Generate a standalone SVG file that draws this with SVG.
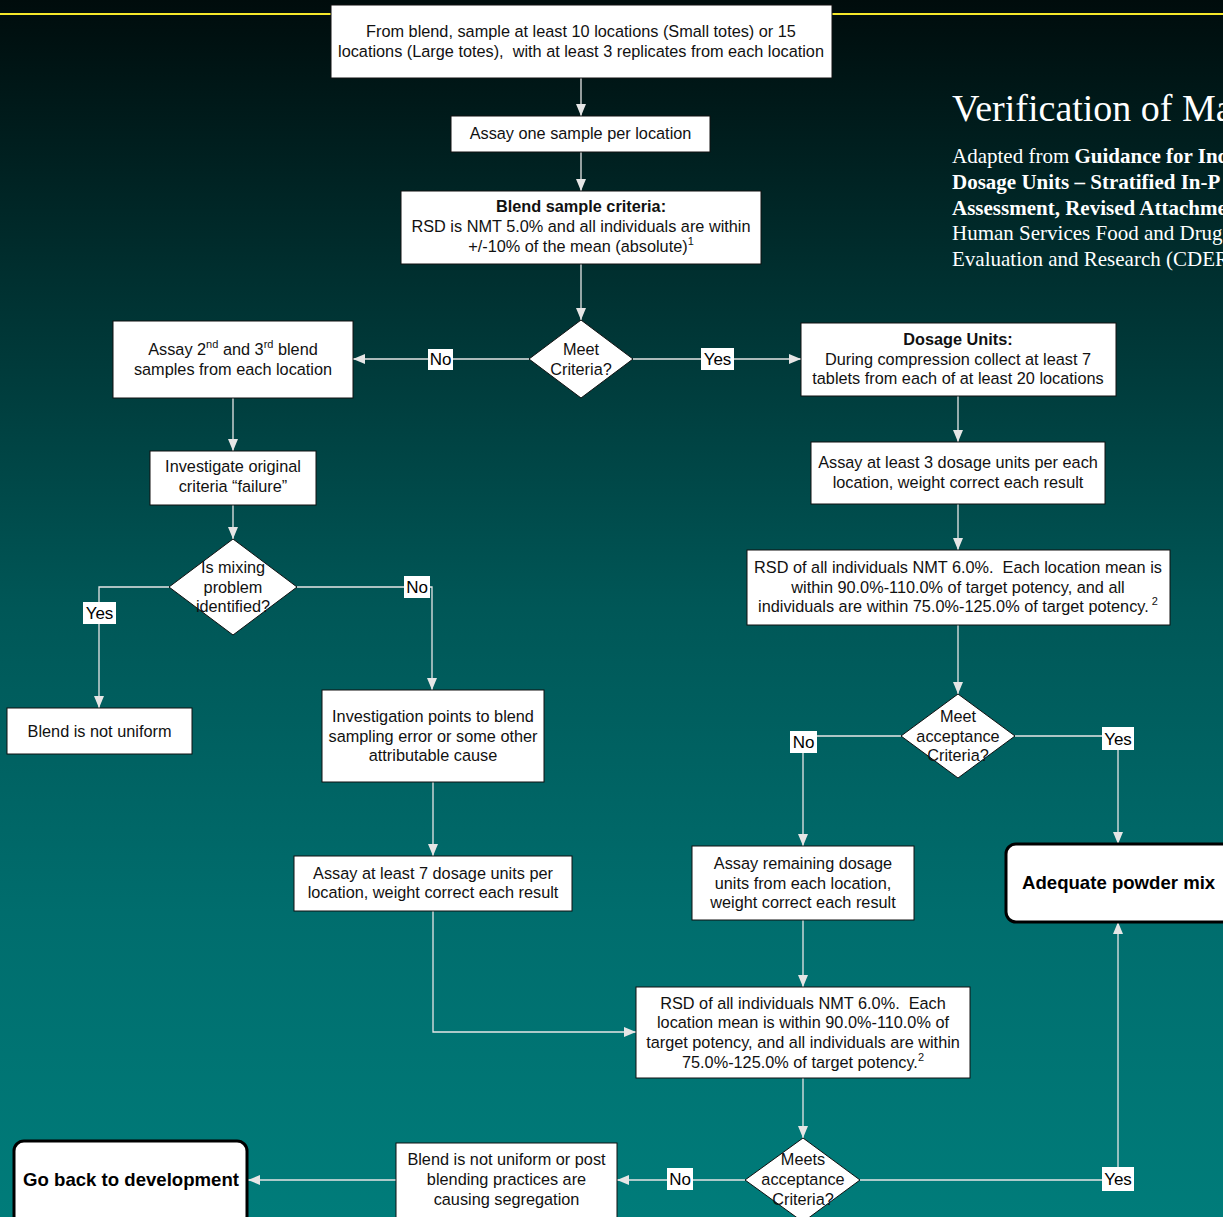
<svg xmlns="http://www.w3.org/2000/svg" width="1223" height="1217" viewBox="0 0 1223 1217">
<defs>
<linearGradient id="bg" x1="0" y1="0" x2="0" y2="1">
<stop offset="0" stop-color="#000c0c"/>
<stop offset="0.25" stop-color="#003333"/>
<stop offset="0.5" stop-color="#005757"/>
<stop offset="0.75" stop-color="#006d6d"/>
<stop offset="1" stop-color="#007c7a"/>
</linearGradient>
<marker id="arr" viewBox="0 0 12 10" refX="12" refY="5" markerWidth="12" markerHeight="10" markerUnits="userSpaceOnUse" orient="auto">
<path d="M0,0 L12,5 L0,10 Z" fill="#e6e6e6"/>
</marker>
<style>
.box{fill:#fff;stroke:#111;stroke-width:1}
.term{fill:#fff;stroke:#000;stroke-width:3}
.t{font-family:"Liberation Sans",Arial,sans-serif;font-size:16.3px;fill:#111;text-anchor:middle}
.pre{white-space:pre}
.b{font-weight:bold}
.tb{font-family:"Liberation Sans",Arial,sans-serif;font-size:18.6px;font-weight:bold;fill:#000;text-anchor:middle}
.lbl{fill:#fff}
.lt{font-family:"Liberation Sans",Arial,sans-serif;font-size:17px;fill:#000;text-anchor:middle}
.c{fill:none;stroke:#e6e6e6;stroke-width:1.3}
.ttl{font-family:"Liberation Serif","Times New Roman",serif;fill:#fff}
.sup{font-size:11px}
</style>
</defs>
<rect width="1223" height="1217" fill="url(#bg)"/>
<line x1="0" y1="14" x2="1223" y2="14" stroke="#f5e82a" stroke-width="2"/>

<g id="title">
<text class="ttl" x="952" y="121" font-size="38">Verification of Ma</text>
<text class="ttl" x="952" y="163" font-size="21">Adapted from <tspan font-weight="bold">Guidance for Ind</tspan></text>
<text class="ttl" x="952" y="189" font-size="21" font-weight="bold">Dosage Units – Stratified In-P</text>
<text class="ttl" x="952" y="215" font-size="21" font-weight="bold">Assessment, Revised Attachme</text>
<text class="ttl" x="952" y="240" font-size="21">Human Services Food and Drug</text>
<text class="ttl" x="952" y="266" font-size="21">Evaluation and Research (CDER</text>
</g>

<g id="connectors">
<path class="c" d="M581,78 V116" marker-end="url(#arr)"/>
<path class="c" d="M581,152 V191" marker-end="url(#arr)"/>
<path class="c" d="M581,264 V320" marker-end="url(#arr)"/>
<path class="c" d="M529,359 H353" marker-end="url(#arr)"/>
<path class="c" d="M633,359 H801" marker-end="url(#arr)"/>
<path class="c" d="M233,398 V451" marker-end="url(#arr)"/>
<path class="c" d="M233,505 V539" marker-end="url(#arr)"/>
<path class="c" d="M169,587 H99 V708" marker-end="url(#arr)"/>
<path class="c" d="M297,587 H432 V690" marker-end="url(#arr)"/>
<path class="c" d="M433,782 V856" marker-end="url(#arr)"/>
<path class="c" d="M433,911 V1032 H636" marker-end="url(#arr)"/>
<path class="c" d="M958,396 V442" marker-end="url(#arr)"/>
<path class="c" d="M958,504 V550" marker-end="url(#arr)"/>
<path class="c" d="M958,625 V694" marker-end="url(#arr)"/>
<path class="c" d="M901,736 H803 V846" marker-end="url(#arr)"/>
<path class="c" d="M1015,736 H1118 V844" marker-end="url(#arr)"/>
<path class="c" d="M803,920 V987" marker-end="url(#arr)"/>
<path class="c" d="M803,1078 V1138" marker-end="url(#arr)"/>
<path class="c" d="M745,1180 H617" marker-end="url(#arr)"/>
<path class="c" d="M860,1180 H1118 V922" marker-end="url(#arr)"/>
<path class="c" d="M396,1180 H248" marker-end="url(#arr)"/>
<g id="labels">
<rect class="lbl" x="428" y="349" width="25" height="21"/><text class="lt" x="440.5" y="365">No</text>
<rect class="lbl" x="701" y="348" width="33" height="22"/><text class="lt" x="717.5" y="365">Yes</text>
<rect class="lbl" x="83" y="602" width="33" height="22"/><text class="lt" x="99.5" y="619">Yes</text>
<rect class="lbl" x="404" y="576" width="26" height="22"/><text class="lt" x="417" y="593">No</text>
<rect class="lbl" x="790" y="731" width="27" height="22"/><text class="lt" x="803.5" y="748">No</text>
<rect class="lbl" x="1102" y="727" width="32" height="23"/><text class="lt" x="1118" y="745">Yes</text>
<rect class="lbl" x="667" y="1168" width="26" height="22"/><text class="lt" x="680" y="1185">No</text>
<rect class="lbl" x="1102" y="1167" width="32" height="24"/><text class="lt" x="1118" y="1185">Yes</text>
</g>
</g>

<g id="n-sample">
<rect class="box" x="331" y="5" width="501" height="73"/>
<text class="t" x="581" y="37">From blend, sample at least 10 locations (Small totes) or 15</text>
<text class="t pre" x="581" y="57">locations (Large totes),  with at least 3 replicates from each location</text>
</g>
<g id="n-assay-one">
<rect class="box" x="451" y="116" width="259" height="36"/>
<text class="t" x="580.5" y="139">Assay one sample per location</text>
</g>
<g id="n-blend-criteria">
<rect class="box" x="401" y="191" width="360" height="73"/>
<text class="t b" x="581" y="212">Blend sample criteria:</text>
<text class="t" x="581" y="232">RSD is NMT 5.0% and all individuals are within</text>
<text class="t" x="581" y="252">+/-10% of the mean (absolute)<tspan class="sup" dy="-7">1</tspan></text>
</g>
<g id="d-meet">
<polygon class="box" points="581,320 633,359 581,398 529,359"/>
<text class="t" x="581" y="355">Meet</text>
<text class="t" x="581" y="375">Criteria?</text>
</g>
<g id="n-assay-23">
<rect class="box" x="113" y="321" width="240" height="77"/>
<text class="t" x="233" y="355">Assay 2<tspan class="sup" dy="-7">nd</tspan><tspan dy="7"> and 3</tspan><tspan class="sup" dy="-7">rd</tspan><tspan dy="7"> blend</tspan></text>
<text class="t" x="233" y="375">samples from each location</text>
</g>
<g id="n-dosage-units">
<rect class="box" x="801" y="323" width="315" height="73"/>
<text class="t b" x="958" y="345">Dosage Units:</text>
<text class="t" x="958" y="365">During compression collect at least 7</text>
<text class="t" x="958" y="384">tablets from each of at least 20 locations</text>
</g>
<g id="n-investigate">
<rect class="box" x="150" y="451" width="166" height="54"/>
<text class="t" x="233" y="472">Investigate original</text>
<text class="t" x="233" y="492">criteria “failure”</text>
</g>
<g id="d-mixing">
<polygon class="box" points="233,539 297,587 233,635 169,587"/>
<text class="t" x="233" y="573">Is mixing</text>
<text class="t" x="233" y="593">problem</text>
<text class="t" x="233" y="612">identified?</text>
</g>
<g id="n-not-uniform">
<rect class="box" x="7" y="708" width="185" height="46"/>
<text class="t" x="99.5" y="737">Blend is not uniform</text>
</g>
<g id="n-investigation-points">
<rect class="box" x="322" y="690" width="222" height="92"/>
<text class="t" x="433" y="722">Investigation points to blend</text>
<text class="t" x="433" y="742">sampling error or some other</text>
<text class="t" x="433" y="761">attributable cause</text>
</g>
<g id="n-assay-7">
<rect class="box" x="294" y="856" width="278" height="55"/>
<text class="t" x="433" y="879">Assay at least 7 dosage units per</text>
<text class="t" x="433" y="898">location, weight correct each result</text>
</g>
<g id="n-assay-3">
<rect class="box" x="811" y="442" width="294" height="62"/>
<text class="t" x="958" y="468">Assay at least 3 dosage units per each</text>
<text class="t" x="958" y="488">location, weight correct each result</text>
</g>
<g id="n-rsd-1">
<rect class="box" x="747" y="550" width="423" height="75"/>
<text class="t pre" x="958" y="573">RSD of all individuals NMT 6.0%.  Each location mean is</text>
<text class="t" x="958" y="593">within 90.0%-110.0% of target potency, and all</text>
<text class="t" x="958" y="612">individuals are within 75.0%-125.0% of target potency.<tspan class="sup" dy="-7"> 2</tspan></text>
</g>
<g id="d-accept-1">
<polygon class="box" points="958,694 1015,736 958,778 901,736"/>
<text class="t" x="958" y="722">Meet</text>
<text class="t" x="958" y="742">acceptance</text>
<text class="t" x="958" y="761">Criteria?</text>
</g>
<g id="n-adequate">
<rect class="term" x="1006" y="844" width="240" height="78" rx="10" ry="10"/>
<text class="tb" x="1022" y="889" style="text-anchor:start">Adequate powder mix</text>
</g>
<g id="n-assay-remaining">
<rect class="box" x="692" y="846" width="222" height="74"/>
<text class="t" x="803" y="869">Assay remaining dosage</text>
<text class="t" x="803" y="889">units from each location,</text>
<text class="t" x="803" y="908">weight correct each result</text>
</g>
<g id="n-rsd-2">
<rect class="box" x="636" y="987" width="334" height="91"/>
<text class="t pre" x="803" y="1009">RSD of all individuals NMT 6.0%.  Each</text>
<text class="t" x="803" y="1028">location mean is within 90.0%-110.0% of</text>
<text class="t" x="803" y="1048">target potency, and all individuals are within</text>
<text class="t" x="803" y="1068">75.0%-125.0% of target potency.<tspan class="sup" dy="-7">2</tspan></text>
</g>
<g id="d-accept-2">
<polygon class="box" points="803,1138 860,1180 803,1222 745,1180"/>
<text class="t" x="803" y="1165">Meets</text>
<text class="t" x="803" y="1185">acceptance</text>
<text class="t" x="803" y="1205">Criteria?</text>
</g>
<g id="n-segregation">
<rect class="box" x="396" y="1143" width="221" height="80"/>
<text class="t" x="506.5" y="1165">Blend is not uniform or post</text>
<text class="t" x="506.5" y="1185">blending practices are</text>
<text class="t" x="506.5" y="1205">causing segregation</text>
</g>
<g id="n-go-back">
<rect class="term" x="14" y="1141" width="233" height="85" rx="10" ry="10"/>
<text class="tb" x="131" y="1186">Go back to development</text>
</g>
</svg>
